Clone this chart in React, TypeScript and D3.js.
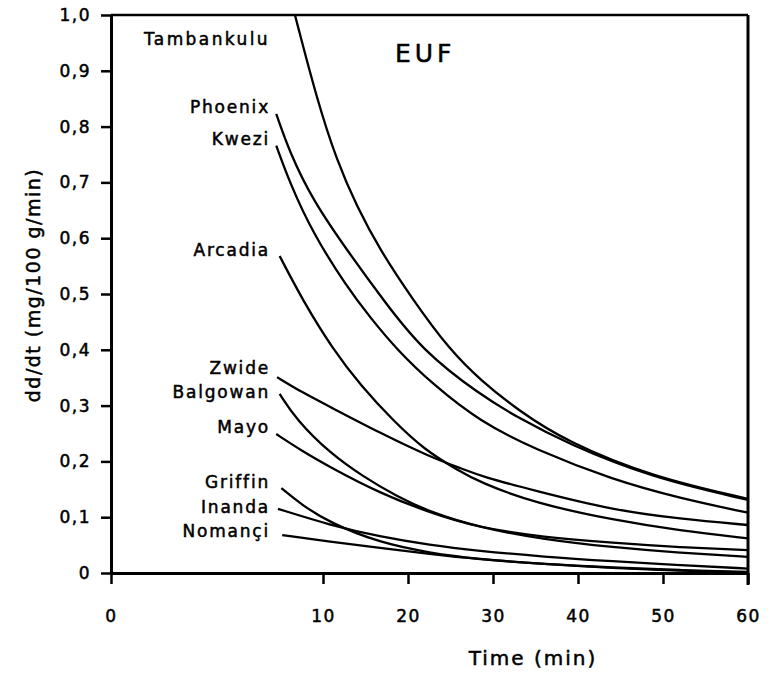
import React, { useEffect, useRef } from "react";
import { select, scaleLinear, axisBottom, axisLeft, line, curveBasis, format } from "d3";

// [time (min), dd/dt]
const tambankulu = [[6.7, 1.0], [9.3, 0.848], [11.6, 0.74], [14.0, 0.656], [16.7, 0.579], [20.6, 0.489], [24.9, 0.4], [28.5, 0.346], [33, 0.291], [38.7, 0.235], [48.8, 0.172], [60, 0.133]];
const phoenix = [[4.5, 0.823], [6.1, 0.753], [8.8, 0.668], [12.8, 0.579], [17.1, 0.489], [21.6, 0.4], [28.5, 0.319], [33, 0.278], [38.7, 0.232], [48.8, 0.17], [60, 0.131]];
const kwezi = [[4.5, 0.766], [6.1, 0.699], [8.8, 0.609], [12.8, 0.513], [15.5, 0.459], [18.7, 0.4], [23, 0.337], [28.5, 0.271], [35, 0.221], [44.1, 0.167], [52, 0.134], [60, 0.108]];
const arcadia = [[4.9, 0.568], [7.6, 0.489], [11.2, 0.4], [14.5, 0.335], [18.2, 0.274], [22, 0.22], [25.8, 0.185], [28.5, 0.162], [35, 0.125], [44.1, 0.095], [52, 0.076], [60, 0.062]];
const zwide = [[4.6, 0.351], [7.5, 0.324], [10.8, 0.298], [16.7, 0.251], [22.6, 0.208], [26.5, 0.186], [28.5, 0.174], [35, 0.147], [44.1, 0.113], [52, 0.097], [60, 0.086]];
const balgowan = [[4.9, 0.321], [6.9, 0.274], [10.8, 0.215], [14.7, 0.173], [18.7, 0.137], [22.6, 0.109], [28.5, 0.081], [36, 0.06], [44.1, 0.046], [52, 0.036], [60, 0.029]];
const mayo = [[4.5, 0.249], [7.5, 0.219], [10.8, 0.19], [16.7, 0.143], [22.6, 0.108], [28.1, 0.082], [36, 0.064], [44.1, 0.054], [52, 0.046], [60, 0.041]];
const griffin = [[5.1, 0.152], [7.5, 0.122], [10.8, 0.09], [16.7, 0.054], [22.6, 0.036], [28.1, 0.025], [36, 0.016], [44.1, 0.01], [52, 0.005], [60, 0.002]];
const inanda = [[4.7, 0.115], [10.8, 0.086], [16.7, 0.065], [22.6, 0.05], [28.1, 0.04], [36, 0.029], [44.1, 0.021], [52, 0.014], [60, 0.008]];
const nomanci = [[5.2, 0.068], [10.8, 0.056], [16.7, 0.045], [22.6, 0.034], [28.1, 0.025], [36, 0.016], [44.1, 0.009], [52, 0.004], [60, 0.001]];

const seriesNames = ["Tambankulu", "Phoenix", "Kwezi", "Arcadia", "Zwide", "Balgowan", "Mayo", "Griffin", "Inanda", "Nomançi"];
const seriesData = [tambankulu, phoenix, kwezi, arcadia, zwide, balgowan, mayo, griffin, inanda, nomanci];
// small vertical nudges (px) so the names sit like in the figure
const labelNudge = [0, -1, -1, 0, -3, 4, -1, 0, 4, 2];

const xTicks = [0, 10, 20, 30, 40, 50, 60];
const yTicks = [0, 0.1, 0.2, 0.3, 0.4, 0.5, 0.6, 0.7, 0.8, 0.9, 1.0];

const FONT = "DejaVu Sans, Verdana, sans-serif";

// broken time axis: 0 at the origin, linear from 4 to 60
const x = scaleLinear().domain([0, 4, 60]).range([111, 272, 748]);
const y = scaleLinear().domain([0, 1]).range([573, 15]);

const fmtY = (v) => (v === 0 ? "0" : format(".1f")(v).replace(".", ","));

export default function App() {
    const svgRef = useRef(null);

    useEffect(() => {
        const svg = select(svgRef.current);

        const yAxis = axisLeft(y).tickValues(yTicks).tickSize(10).tickSizeOuter(0).tickPadding(10).tickFormat(fmtY);
        const gy = svg.select(".y-axis").attr("transform", `translate(${x(0)},0)`).call(yAxis);

        const xAxis = axisBottom(x).tickValues(xTicks).tickSize(11).tickSizeOuter(0).tickPadding(26).tickFormat(format("d"));
        const gx = svg.select(".x-axis").attr("transform", `translate(0,${y(0)})`).call(xAxis);

        [gx, gy].forEach((g) => {
            g.attr("font-family", FONT).attr("font-size", 17);
            g.select(".domain").attr("stroke", "#000").attr("stroke-width", 3);
            g.selectAll(".tick line").attr("stroke", "#000").attr("stroke-width", 2.5);
            g.selectAll(".tick text")
                .attr("fill", "#000")
                .attr("stroke", "#000")
                .attr("stroke-width", 0.5)
                .attr("letter-spacing", 1.5);
        });
        gx.selectAll(".tick text").attr("dy", "0.71em");

        const lineGen = line()
            .x((d) => x(d[0]))
            .y((d) => y(d[1]))
            .curve(curveBasis);

        svg.select(".curves")
            .selectAll("path")
            .data(seriesData)
            .join("path")
            .attr("d", (d) => lineGen(d))
            .attr("fill", "none")
            .attr("stroke", "#000")
            .attr("stroke-width", 2.3);

        // curve names, right aligned just left of where each curve starts
        svg.select(".labels")
            .selectAll("text")
            .data(seriesData)
            .join("text")
            .attr("x", x(4) - 2)
            .attr("y", (d, i) => (i === 0 ? 45 : y(d[0][1]) + labelNudge[i]))
            .attr("text-anchor", "end")
            .attr("font-family", FONT)
            .attr("font-size", 17)
            .attr("letter-spacing", (d, i) => (i === 0 ? 2.4 : 1.8))
            .attr("fill", "#000")
            .attr("stroke", "#000")
            .attr("stroke-width", 0.5)
            .text((d, i) => seriesNames[i]);
    }, []);

    return (
        <svg ref={svgRef} width={770} height={676} style={{ position: "absolute", left: 0, top: 0, background: "#fff" }}>
            <line x1={x(0)} x2={x(60)} y1={y(1)} y2={y(1)} stroke="#000" strokeWidth={2.5} />
            <line x1={x(60)} x2={x(60)} y1={y(1)} y2={y(0) + 12} stroke="#000" strokeWidth={3} />
            <g className="curves" />
            <g className="x-axis" />
            <g className="y-axis" />
            <g className="labels" />
            <text x={395} y={62} fontFamily={FONT} fontSize={25} letterSpacing={4} stroke="#000" strokeWidth={0.5}>
                EUF
            </text>
            <text x={533} y={665} textAnchor="middle" fontFamily={FONT} fontSize={20} letterSpacing={2} stroke="#000" strokeWidth={0.5}>
                Time (min)
            </text>
            <text transform="translate(40,285) rotate(-90)" textAnchor="middle" fontFamily={FONT} fontSize={19} letterSpacing={1.5} stroke="#000" strokeWidth={0.5}>
                dd/dt (mg/100 g/min)
            </text>
        </svg>
    );
}
